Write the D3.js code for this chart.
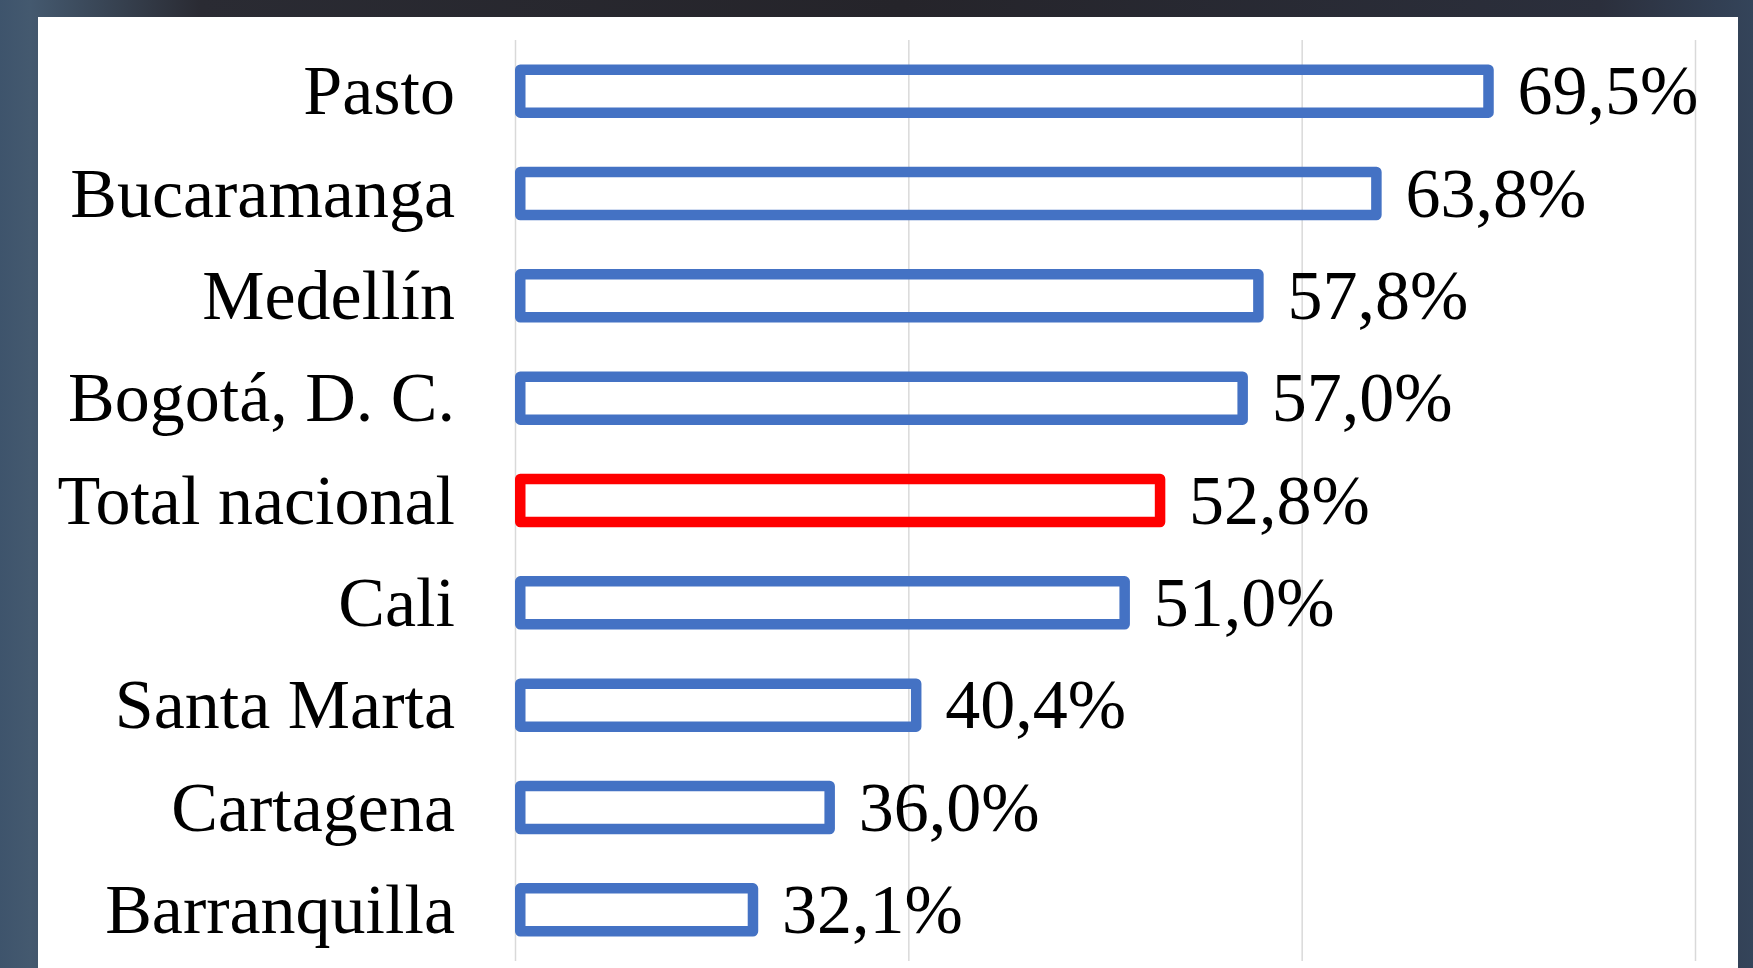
<!DOCTYPE html>
<html>
<head>
<meta charset="utf-8">
<script src="https://cdn.jsdelivr.net/npm/d3@7"></script>
<style>
  html, body { margin: 0; padding: 0; }
  body {
    width: 1753px; height: 968px; overflow: hidden;
    background: linear-gradient(90deg, #3e546c 0px, #44596f 30px, #2a2b33 200px, #25242a 900px, #2b2f3c 1600px, #34445a 1753px);
  }
  #chart { position: absolute; left: 0; top: 0; }
  .gridlines line { stroke: #d9d9d9; stroke-width: 1.5; }
  .gridlines path { display: none; }
  .cat, .val { font-family: "Liberation Serif", "Times New Roman", serif; font-size: 70px; fill: #000; }
</style>
</head>
<body>
<svg id="chart" width="1753" height="968"></svg>
<script>
const cities = ["Pasto", "Bucaramanga", "Medellín", "Bogotá, D. C.", "Total nacional",
  "Cali", "Santa Marta", "Cartagena", "Barranquilla"];
const values = [0.695, 0.638, 0.578, 0.570, 0.528, 0.510, 0.404, 0.360, 0.321];
const highlight = "Total nacional";
const xTicks = [0.2, 0.4, 0.6, 0.8];

const svg = d3.select("#chart");
const margins = { top: 40, right: 58, bottom: 7, left: 515 };
const chartWidth = 1695 - margins.left;
const chartHeight = svg.attr("height") - margins.top - margins.bottom;
const strokeW = 10.5;

// white panel over the photo background
svg.append("rect")
  .attr("x", 38).attr("y", 17)
  .attr("width", 1738 - 38).attr("height", 968 - 17)
  .attr("fill", "#fff");

const xScale = d3.scaleLinear().domain([0.2, 0.8]).range([0, chartWidth]);
const yScale = d3.scaleBand().domain(cities).range([0, chartHeight])
  .paddingInner(0.58).paddingOuter(0.29);

const chartArea = svg.append("g")
  .attr("transform", `translate(${margins.left},${margins.top})`);

const grid = d3.axisBottom(xScale)
  .tickValues(xTicks)
  .tickSize(-chartHeight)
  .tickFormat("");
chartArea.append("g")
  .attr("class", "gridlines")
  .attr("transform", `translate(0,${chartHeight})`)
  .call(grid);

const fmt = (v) => d3.format(".1f")(v * 100).replace(".", ",") + "%";

cities.forEach((c, i) => {
  const v = values[i];
  const col = c === highlight ? "#ff0000" : "#4472c4";
  const y = yScale(c);
  chartArea.append("rect")
    .attr("x", xScale(0.2) + strokeW / 2)
    .attr("y", y)
    .attr("width", xScale(v) - xScale(0.2) - strokeW / 2)
    .attr("height", yScale.bandwidth())
    .attr("fill", "none")
    .attr("stroke", col)
    .attr("stroke-width", strokeW)
    .attr("stroke-linejoin", "round");

  chartArea.append("text")
    .attr("class", "val")
    .attr("x", xScale(v) + 29)
    .attr("y", y + yScale.bandwidth() / 2)
    .attr("dy", "0.33em")
    .text(fmt(v));

  chartArea.append("text")
    .attr("class", "cat")
    .attr("x", -60)
    .attr("y", y + yScale.bandwidth() / 2)
    .attr("dy", "0.33em")
    .attr("text-anchor", "end")
    .text(c);
});
</script>
</body>
</html>
